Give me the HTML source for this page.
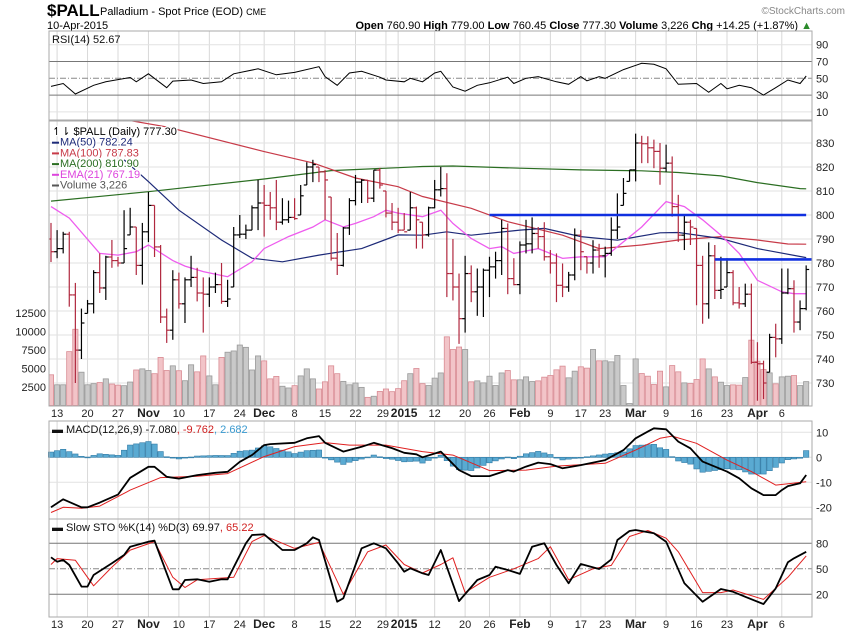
<!DOCTYPE html>
<html><head><meta charset="utf-8"><style>
body{margin:0;background:#fff;}
svg{display:block;font-family:"Liberation Sans",sans-serif;}
</style></head><body>
<svg id="c" width="850" height="633" viewBox="0 0 850 633" xmlns="http://www.w3.org/2000/svg">
<rect width="850" height="633" fill="#fff"/>
<text x="47" y="16" font-size="17" font-weight="bold" font-family="Liberation Sans Narrow, Liberation Sans, sans-serif">$PALL</text>
<text x="100" y="15" font-size="11" font-family="Liberation Sans Narrow, Liberation Sans, sans-serif">Palladium - Spot Price (EOD) <tspan font-size="9">CME</tspan></text>
<text x="845" y="14" font-size="10" fill="#888" text-anchor="end">©StockCharts.com</text>
<text x="47" y="29" font-size="11" font-family="Liberation Sans Narrow, Liberation Sans, sans-serif">10-Apr-2015</text>
<text x="812" y="29" font-size="11" text-anchor="end" font-family="Liberation Sans Narrow, Liberation Sans, sans-serif"><tspan font-weight="bold">Open</tspan> 760.90 <tspan font-weight="bold">High</tspan> 779.00 <tspan font-weight="bold">Low</tspan> 760.45 <tspan font-weight="bold">Close</tspan> 777.30 <tspan font-weight="bold">Volume</tspan> 3,226 <tspan font-weight="bold">Chg</tspan> +14.25 (+1.87%) <tspan fill="#2a8a2a">▲</tspan></text>
<g id="g"></g>
</svg>
<script>
const highs=[796.7,793.7,793,793,771.7,761,764.6,777,784,783,789.6,782.5,802,803,795,796.7,809.6,804,787.5,761,777,776,774,783,778,774,774,776,780,773,795,800,796,804,814.6,812.5,809.6,814.6,807,806,807,812.5,822,823,820,818.7,807.5,792.5,795,807,816.7,815,814.6,818.7,819.6,810,805,803,800.8,809.6,803.5,797,803.5,814.6,820,817.4,790,775.6,783,779,777.7,777.7,782.6,784.7,798,796.5,782,789,798,799,795,797,785.4,784,779.8,776.3,794.4,793.7,782.6,789.5,788,786.8,799,809,815.4,818.8,833.9,833,832.8,831.4,830,829.3,824.4,808.4,800,798,794.4,783,788.6,787.5,782.6,782,777,770,771.4,771.4,747,739.3,750.5,754.7,777.7,777.7,772.8,764.4,779];
const lows=[780.4,782,784,761.8,730,740,759,759,767.5,764.6,778,778.5,780,791.7,775,771,788.7,782.5,755,746.7,748,761,755,770,764,751,761.7,767.5,763,761.7,770,790.4,790,793.7,793.7,791,798,793.7,796,796.7,798,800,812.5,813.7,813.7,798,781,775,778.5,791.7,804,805,805,805.4,811,799,793.7,792.5,793.7,793.7,786,786,791,802.8,807.7,765.8,764.4,746.3,751,763.7,758,757.5,765.8,773.5,775,767,770.7,767,784,784,786,781,775.6,763.7,765.8,768,772.8,777,775.6,775.6,778,774,783,790,804,814,814,821.6,821.6,819.5,812.6,818,799.3,788.8,785.4,787.5,762.4,754.7,756.8,765,765,770,762.4,761,761.7,738,722.6,723.3,734.5,740.7,746.3,767,751,752,760.3];
const closes=[784.7,786,792,766.7,743.7,755,763,776,769.6,782.5,781,780,786,795,779,793,804,786.7,757.5,752,773,763,773,774,767.5,767,770,771,764,765,791.7,792,793.7,803,805,804,803,797,798,799,798.5,808,820,821,818,814.6,782,779,794.6,806,813.7,814.5,807,818.7,812.5,800.8,797,793.7,793,803,798,791.7,803,810.5,811,775.6,770,756.8,775.6,768,770,777,778.4,781,794.4,773.5,771,787.5,788,792.3,791,782.6,780,770.7,770,775,791.6,784.7,780,785.4,783,784,793.7,795,809,818.8,830,829.7,828,826.5,819.5,821.6,803.5,791.6,797,795,779,763,783,768.6,769,776,763.4,763,767,738.6,738,730,749,748.4,767.5,769.3,755.4,761,777.3];
const volumes=[4150,2800,2800,7280,10300,4500,2800,2950,3100,3600,2900,2750,2680,3170,4800,4950,4730,4300,6500,4730,5360,4700,3350,5500,4550,6700,4000,2800,6500,7200,7370,8170,7860,4800,6700,6030,3600,3930,2600,2370,2680,4000,4950,3600,2230,3200,5360,4300,3260,2800,3040,2450,1100,1250,1900,2230,1870,2280,3350,4300,5000,2950,2700,3700,4400,9280,7570,7900,7570,3200,3330,3060,3960,2700,4400,4730,3470,3470,3870,3240,3330,3830,4050,4820,5320,3740,4640,5230,5050,7570,6040,6040,5900,6760,2700,270,6300,4320,3960,2840,4640,2520,5400,4550,3060,2970,3510,6300,4950,3870,3150,2700,2790,2750,3780,8830,5990,4860,4410,2930,3870,3960,4050,2700,3226];
const ma50Idx=[12,16,21,28,33,38,44,51,57,61,65,69,77,81,87,93,100,103,110,116,124];
const ma50Val=[823,813.9,802,789.6,782,780.5,783.3,786,791.7,791.6,793,791.6,793.7,794.4,791,789.5,792.6,792.7,790.2,786,782.24];
const ma100Idx=[0,19,35,43,50,57,61,69,75,84,90,97,103,110,116,121,124];
const ma100Val=[845,836.7,826.4,821.7,815.4,811.8,807.7,802.8,797.2,791.6,786,787.5,789.6,791,789.6,787.9,787.83];
const ma200Idx=[0,16,35,46,57,61,66,77,87,97,103,110,116,123,124];
const ma200Val=[805.8,809.7,815,818.5,819.7,820.2,820.4,819.5,818.8,818.4,817.7,816.3,813.5,811,810.9];
const emaIdx=[0,3,8,11,14,16,20,22,25,29,33,35,39,43,45,48,50,53,55,57,61,64,66,69,72,74,76,80,84,87,91,93,97,101,104,107,110,113,116,120,122,124];
const emaVal=[803.5,798.7,784,783.3,784.7,787.5,781,778.7,776.4,774.3,780.5,786,791,795,798,795,796.5,799.3,802,800.8,799.3,802,796.5,790.2,786,786.8,784,786,781.9,782.6,782.6,786.8,795,805.6,803.5,798,791.6,784,772.8,768,767.2,767.19];
const hlinePrices=[800,781.5];
const hlineStart=[72,109];
const rsiIdx=[0,2,4,7,9,13,14,16,19,20,23,25,28,30,34,37,40,44,45,47,49,51,54,55,58,59,61,63,64,66,68,70,72,75,76,78,80,83,85,87,88,90,91,94,97,99,101,103,106,108,110,111,113,115,117,119,121,123,124];
const rsiVal=[40.4,43.8,31.3,41.7,45.8,51,45.8,55.4,38.8,46.7,48,43.8,45.8,55.4,61.3,54.2,57,63.8,52,41.7,56.3,58.3,51.3,48,45.8,50,45.8,56.3,58.3,39.6,34.6,41.7,44.6,51.3,43.8,50,52,45.8,42.9,52,47,52,50,60.4,67.9,66.7,61.3,42.9,43.8,33.3,43.8,37.5,41.7,38.8,30,38.8,48,43.8,52.7];
const macdIdx=[0,2,5,6,8,11,13,16,17,19,21,24,27,29,31,33,35,36,40,42,44,45,48,51,53,56,58,60,61,64,67,69,72,73,75,76,78,80,82,84,87,89,91,94,96,98,99,101,103,105,107,109,111,113,115,117,119,120,121,123,124];
const macdVal=[-20,-16.8,-20,-20,-18.1,-14.9,-8.2,-3.8,-3.8,-7.8,-8.5,-7.1,-6.2,-5.8,-1.8,0.9,4.9,5.3,5.8,7.6,8.5,5.8,2.3,4.2,5.8,3.7,1.8,1.2,0,2.3,-5.1,-7.5,-7.5,-6.7,-5.1,-5.7,-3.7,-2.1,-2.7,-4.4,-3.1,-2.1,-1.1,2.9,7.6,10.3,11.6,11.2,6.3,3.6,-1.7,-3.7,-5.7,-8.4,-12.4,-15.1,-15.1,-13.1,-11.5,-10.4,-7.08];
const sigIdx=[0,2,5,8,13,18,24,29,35,40,45,49,55,61,66,72,78,83,91,96,100,102,106,111,115,119,124];
const sigVal=[-22.1,-20,-20.4,-19.5,-13.1,-8.1,-7.6,-6.5,0.3,4.3,5.9,4.9,4.9,2.3,0.9,-5.3,-5.1,-3.5,-2.4,2.9,7.6,8.5,5.6,-1.1,-5.7,-11.1,-9.76];
const kIdx=[0,1,2,3,5,6,7,10,12,13,16,17,19,20,21,22,24,26,28,29,32,33,35,38,40,42,43,44,47,48,51,53,55,57,58,59,61,62,64,67,70,72,73,75,77,79,81,83,85,87,90,92,93,95,96,99,101,104,107,110,112,114,117,119,121,122,124];
const kVal=[63.5,58.4,60.4,54.5,29,29,42.7,56.5,66.2,76,81.9,83.1,44.7,25.9,25.9,36.8,37.6,34.8,37.6,37.6,80,89.8,90.6,72.1,72.1,80,87,83.9,11.3,15.3,74.1,80,74.1,56.5,46.6,50.6,44.7,42.7,72.1,12,36.8,42.7,52.5,48.6,44,76,80,54.5,33,55.7,49.8,61,83.9,94.5,95.7,91.8,81.9,33,11.3,26.2,23,17.1,8.5,26.9,57.6,62.3,69.97];
const dIdx=[0,1,4,7,10,13,17,20,22,24,30,33,35,40,44,48,52,55,58,61,64,66,68,72,76,80,82,85,89,92,95,98,101,103,107,110,112,117,121,124];
const dVal=[55,62,60,30,52,72,82,40,28,37,40,82,89,74,81,20,70,78,55,45,55,63,22,40,50,62,76,37,50,54,88,95,86,70,22,22,25,14,40,65.22];
const dateIdx=[1,6,11,16,21,26,31,35,40,45,50,55,57,63,68,72,77,82,87,91,96,101,106,111,116,120];
const dateLbl=["13","20","27","Nov","10","17","24","Dec","8","15","22","29","2015","12","20","26","Feb","9","17","23","Mar","9","16","23","Apr","6"];
const dateShift=[0,0,0,0,0,0,0,0,0,0,0,-3,6,0,0,0,0,0,0,0,0,0,0,0,0,0];
const dateBold=["Nov","Dec","2015","Feb","Mar","Apr"];
const priceTicks=[730,740,750,760,770,780,790,800,810,820,830];
const volTicks=[2500,5000,7500,10000,12500];
const rsiTicks=[10,30,50,70,90];
const macdTicks=[10,0,-10,-20];
const stoTicks=[20,50,80];

const NS="http://www.w3.org/2000/svg";
const G=document.getElementById('g');
const L=49,R=812;
const X0=51,STEP=6.09;
function xi(i){return X0+i*STEP;}
function yP(p){return 143+(830-p)*2.4;}
function yV(v){return 405.5-v*0.0074;}
function yR(v){return 78.3-(v-50)*0.84;}
function yM(v){return 457.3-v*2.5;}
function yS(v){return 543.3-(v-80)*0.85;}
function el(tag,attrs,parent){const e=document.createElementNS(NS,tag);for(const k in attrs)e.setAttribute(k,attrs[k]);(parent||G).appendChild(e);return e;}
function interp(idx,val,i){if(i<=idx[0])return val[0];for(let k=1;k<idx.length;k++){if(i<=idx[k]){const t=(i-idx[k-1])/(idx[k]-idx[k-1]);return val[k-1]+t*(val[k]-val[k-1]);}}return val[val.length-1];}
function bold(k){return dateBold.indexOf(dateLbl[k])>=0;}

const defs=el('defs',{});
const cp=el('clipPath',{id:'pc'},defs);el('rect',{x:L,y:121,width:R-L,height:285},cp);

const panels=[[31,120,'rsi-panel'],[121,406,'price-panel'],[421,519,'macd-panel'],[519,617,'sto-panel']];
for(const p of panels){
  const r=el('rect',{x:L,y:p[0],width:R-L,height:p[1]-p[0],fill:'#fff',stroke:'none'});
  
  
}
for(let k=0;k<dateIdx.length;k++){
  const x=xi(dateIdx[k]);
  for(const p of panels){
    const ln=el('line',{x1:x,x2:x,y1:p[0],y2:p[1],stroke:'#d8d8d8','stroke-width':1});
    
    
  }
  for(const yy of [417,628]){
    const t=el('text',{x:x+dateShift[k],y:yy,'font-size':bold(k)?12:11,'font-weight':bold(k)?'bold':'normal','text-anchor':'middle',fill:'#222'});
    t.textContent=dateLbl[k];
    
    
  }
}
for(const v of rsiTicks){
  const y=yR(v);
  const strong=(v===30||v===70);
  const ln=el('line',{x1:L,x2:R,y1:y,y2:y,stroke:strong?'#777':(v===50?'#888':'#e2e2e2'),'stroke-width':1,'stroke-dasharray':v===50?'6,2,1,2':'none'});
  
  
  const t=el('text',{x:816,y:y+4,'font-size':11,fill:'#222'});t.textContent=v;
  
  
}
{let d='';for(let k=0;k<rsiIdx.length;k++)d+=(k?'L':'M')+xi(rsiIdx[k]).toFixed(1)+','+yR(rsiVal[k]).toFixed(1);
const p=el('path',{d:d,fill:'none',stroke:'#000','stroke-width':1});

}
{const t=el('text',{x:52,y:43,'font-size':11,fill:'#111'});t.textContent='RSI(14) 52.67';

}

for(const v of priceTicks){
  const y=yP(v);
  const ln=el('line',{x1:L,x2:R,y1:y,y2:y,stroke:'#e2e2e2','stroke-width':1});
  
  
  const t=el('text',{x:816,y:y+4,'font-size':11,fill:'#222'});t.textContent=v;
  
  
}
for(const v of volTicks){
  const t=el('text',{x:46,y:yV(v)+4,'font-size':11,'text-anchor':'end',fill:'#222'});t.textContent=v;
  
  
}
const pg=el('g',{'clip-path':'url(#pc)'});
for(let i=0;i<volumes.length;i++){
  const down=i>0?closes[i]<closes[i-1]:true;
  const y=yV(volumes[i]);
  const r=el('rect',{x:xi(i)-2.6,y:y,width:5.2,height:405.5-y,fill:down?'#f2c4c8':'#c9c9c9',stroke:down?'#d98c94':'#9a9a9a','stroke-width':0.8},pg);
  
  
}
function line(idx,val,color,w,name){let d='';for(let k=0;k<idx.length;k++)d+=(k?'L':'M')+xi(idx[k]).toFixed(1)+','+yP(val[k]).toFixed(1);
  const p=el('path',{d:d,fill:'none',stroke:color,'stroke-width':w},pg);
  
  }
line(ma200Idx,ma200Val,'#2b6e22',1.2,'ma200-line');
line(ma100Idx,ma100Val,'#c73a48',1.2,'ma100-line');
line(ma50Idx,ma50Val,'#1d2a78',1.2,'ma50-line');
line(emaIdx,emaVal,'#ee5cee',1.3,'ema21-line');
for(let i=0;i<closes.length;i++){
  const prev=i>0?closes[i-1]:790;
  const down=closes[i]<prev;
  const c=down?'#b0283e':'#000';
  const x=xi(i);
  const g=el('g',{stroke:c,'stroke-width':1.2},pg);
  
  
  el('line',{x1:x,x2:x,y1:yP(highs[i]),y2:yP(lows[i])},g);
  const o=Math.min(Math.max(prev,lows[i]),highs[i]);
  el('line',{x1:x-3,x2:x,y1:yP(o),y2:yP(o)},g);
  el('line',{x1:x,x2:x+3,y1:yP(closes[i]),y2:yP(closes[i])},g);
}
for(let k=0;k<hlinePrices.length;k++){
  const ln=el('line',{x1:xi(hlineStart[k]),x2:k?R:xi(124),y1:yP(hlinePrices[k]),y2:yP(hlinePrices[k]),stroke:'#1030e0','stroke-width':2.6},pg);
  
  
}
const leg=[['↿⇂ $PALL (Daily) 777.30','#000'],['MA(50) 782.24','#1d2a78'],['MA(100) 787.83','#c73a48'],['MA(200) 810.90','#2b6e22'],['EMA(21) 767.19','#dd44dd'],['Volume 3,226','#555']];
for(let k=0;k<leg.length;k++){
  const y=135+k*10.7;
  if(k>0){const m=el('rect',{x:52,y:y-4,width:7,height:2,fill:leg[k][1]});}
  const t=el('text',{x:k>0?60:52,y:y,'font-size':11,fill:leg[k][1],stroke:'#fff','stroke-width':2.5,'paint-order':'stroke'});
  t.textContent=leg[k][0];
  
  
}
for(const v of macdTicks){
  const y=yM(v);
  const ln=el('line',{x1:L,x2:R,y1:y,y2:y,stroke:'#e2e2e2'});
  
  
  const t=el('text',{x:816,y:y+4,'font-size':11,fill:'#222'});t.textContent=v;
  
  
}
for(let i=0;i<closes.length;i++){
  const h=interp(macdIdx,macdVal,i)-interp(sigIdx,sigVal,i);
  const y0=yM(0),y1=yM(h);
  const r=el('rect',{x:xi(i)-2.7,y:Math.min(y0,y1),width:5.4,height:Math.max(0.8,Math.abs(y1-y0)),fill:'#5aaad2',stroke:'#2f7aa5','stroke-width':0.6});
  
  
}
function pl(idx,val,fy,color,w,name){let d='';for(let k=0;k<idx.length;k++)d+=(k?'L':'M')+xi(idx[k]).toFixed(1)+','+fy(val[k]).toFixed(1);
  const p=el('path',{d:d,fill:'none',stroke:color,'stroke-width':w,'stroke-linejoin':'round'});
  
  }
pl(sigIdx,sigVal,yM,'#e02020',1,'macd-signal-line');
pl(macdIdx,macdVal,yM,'#000',1.8,'macd-line');
{const t=el('text',{x:52,y:433,'font-size':11,fill:'#111'});
t.innerHTML='▬ MACD(12,26,9) -7.080<tspan fill="#d02020">, -9.762</tspan><tspan fill="#3a9ad0">, 2.682</tspan>';

}
for(const v of stoTicks){
  const y=yS(v);
  const ln=el('line',{x1:L,x2:R,y1:y,y2:y,stroke:v===50?'#888':'#777','stroke-dasharray':v===50?'6,2,1,2':'none'});
  
  
  const t=el('text',{x:816,y:y+4,'font-size':11,fill:'#222'});t.textContent=v;
  
  
}
pl(dIdx,dVal,yS,'#e02020',1,'sto-d-line');
pl(kIdx,kVal,yS,'#000',1.8,'sto-k-line');
{const t=el('text',{x:52,y:531,'font-size':11,fill:'#111'});
t.innerHTML='▬ Slow STO %K(14) %D(3) 69.97<tspan fill="#d02020">, 65.22</tspan>';

}
for(const p of panels){
  const r=el('rect',{x:L,y:p[0],width:R-L,height:p[1]-p[0],fill:'none',stroke:'#aaa','stroke-width':1});
  
  
}
</script>
</body></html>
